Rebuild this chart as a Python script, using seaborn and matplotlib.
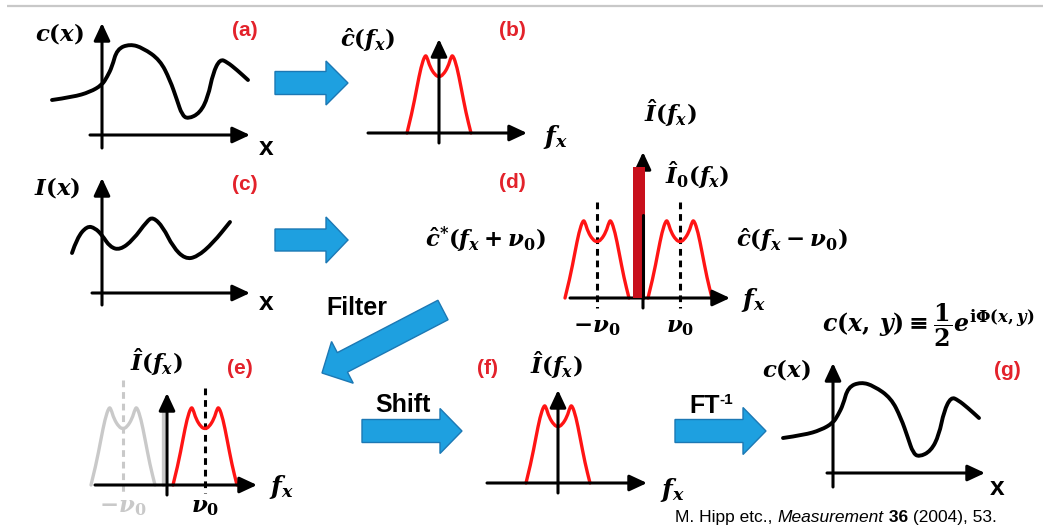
import numpy as np
import matplotlib
matplotlib.use("Agg")
import matplotlib.pyplot as plt
import seaborn as sns
from matplotlib.path import Path
from matplotlib.patches import PathPatch, FancyArrow, Rectangle

# ---------------- data (panel-local: x offset from vertical axis, height above horizontal axis)
signal_x = [-50, -29, -12, 0, 5, 10, 15, 28, 41, 58, 68, 75, 80, 86, 98, 106, 111, 118, 125, 135, 146]
signal_y = [35, 38, 43, 50, 58, 68, 86, 91, 87, 75, 55, 35, 20, 16, 22, 38, 62, 76, 73, 65, 55]

intensity_x = [-30, -25, -15, -7, 0, 8, 18, 31, 45, 51, 61, 71, 83, 95, 111, 128]
intensity_y = [40, 55, 67, 65, 58, 46, 43, 53, 72, 76, 66, 46, 34, 36, 50, 71]

hump_x = [-32, -27, -22, -18, -14, -12, -9, -4, 0, 4, 9, 12, 14, 18, 22, 27, 32]
hump_y = [0, 20, 46, 66, 78, 76, 66, 58, 56, 58, 66, 76, 78, 66, 46, 20, 0]

nu0_d = [-46, 37]          # carrier positions in panel (d)
nu0_e = [-44, 38]          # carrier positions in panel (e)
dc_bar_x = [-10, 2]        # DC term width in (d)
dc_bar_height = 131
dc_gray_x = -4
dc_gray_height = 75

panel_tags = ["(a)", "(b)", "(c)", "(d)", "(e)", "(f)", "(g)"]
step_labels = ["Filter", "Shift"]
citation = ["M. Hipp etc., ", "Measurement", " 36", " (2004), 53."]

# ---------------- style
RED = "#FF1414"
TAG_RED = "#E3222B"
DC_RED = "#C8101C"
GRAY = "#C9C9C9"
BLUE = "#1EA0E0"
BLUE_EDGE = "#1C78B4"

sns.set_theme(style="white")
plt.rcParams.update({
    "font.family": ["Liberation Sans", "DejaVu Sans"],
    "text.color": "black",
    "mathtext.fontset": "custom",
    "mathtext.rm": "DejaVu Serif:bold",
    "mathtext.it": "DejaVu Serif:italic:bold",
    "mathtext.bf": "DejaVu Serif:bold",
    "mathtext.fallback": "stix",
})

fig = plt.figure(figsize=(10.43, 5.31), dpi=100)
ax = fig.add_axes([0, 0, 1, 1])
ax.set_xlim(0, 1043)
ax.set_ylim(531, 0)
ax.axis("off")

MFS = 16.5  # math label size
FXS = 18    # f_x axis label size


def smooth_curve(ox, oy, xs, ys, color, lw=2.6, z=3):
    pts = [(ox + x, oy - y) for x, y in zip(xs, ys)]
    verts = [pts[0]]
    codes = [Path.MOVETO]
    for i in range(1, len(pts) - 1):
        mid = ((pts[i][0] + pts[i + 1][0]) / 2, (pts[i][1] + pts[i + 1][1]) / 2)
        verts += [pts[i], mid]
        codes += [Path.CURVE3, Path.CURVE3]
    verts.append(pts[-1])
    codes.append(Path.LINETO)
    ax.add_patch(PathPatch(Path(verts, codes), fill=False, edgecolor=color, lw=lw,
                           capstyle="round", joinstyle="round", zorder=z))


def axis_arrows(ox, oy, xr, yr, z=4):
    kw = dict(arrowstyle="-|>,head_length=0.75,head_width=0.35", lw=2.2, color="black",
              mutation_scale=14, shrinkA=0, shrinkB=0)
    ax.annotate("", xy=(ox + xr[1], oy), xytext=(ox + xr[0], oy), arrowprops=kw, zorder=z)
    ax.annotate("", xy=(ox, oy - yr[1]), xytext=(ox, oy - yr[0]), arrowprops=kw, zorder=z)


def vline(ox, oy, x, y0, y1, color, dashed=True, lw=2.2, z=2):
    sns.lineplot(x=[ox + x, ox + x], y=[oy - y0, oy - y1], ax=ax, color=color, lw=lw,
                 estimator=None, sort=False, legend=False, zorder=z,
                 linestyle=(0, (2.2, 1.6)) if dashed else "-")


def blue_arrow(x0, y0, x1, y1, w, hw, hl):
    ax.add_patch(FancyArrow(x0, y0, x1 - x0, y1 - y0, width=w, head_width=hw, head_length=hl,
                            length_includes_head=True, fc=BLUE, ec=BLUE_EDGE, lw=1.0, zorder=2))


def label(x, y, s, size=MFS, color="black", **kw):
    ax.text(x, y, s, ha="center", va="center", fontsize=size, color=color, **kw)


def tag(x, y, s):
    ax.text(x, y, s, ha="center", va="center", fontsize=15, color=TAG_RED, fontweight="bold")


def seq_text(xc, y, pieces):
    r = fig.canvas.get_renderer()
    objs = []
    for s, kw in pieces:
        kw = dict(kw)
        dy = kw.pop("dy", 0)
        t = ax.text(0, y + dy, s, va="baseline", ha="left", color="black", **kw)
        objs.append(t)
    widths = [t.get_window_extent(r).width for t in objs]
    x = xc - sum(widths) / 2
    for t, w in zip(objs, widths):
        t.set_x(x)
        x += w


# top rule
ax.plot([7, 1043], [6, 6], color="#C8C8C8", lw=1.6, solid_capstyle="butt")

# ---------------- (a)
oa = (102, 135)
axis_arrows(*oa, (-12, 148), (-13, 112))
smooth_curve(*oa, signal_x, signal_y, "black", lw=2.8)
label(60, 33, r"$c(x)$")
tag(245, 30, panel_tags[0])
ax.text(266, 148, "x", ha="center", va="center", fontsize=19, fontweight="bold")

# ---------------- (b)
ob = (439, 133)
axis_arrows(*ob, (-71, 88), (-10, 94))
smooth_curve(*ob, hump_x, hump_y, RED, lw=2.4)
label(368, 40, r"$\hat{c}(f_x)$")
tag(512, 30, panel_tags[1])
label(555, 137, r"$f_x$", size=FXS)

blue_arrow(275, 83, 348, 83, 23, 44, 22)

# ---------------- (c)
oc = (102, 293)
axis_arrows(*oc, (-10, 148), (-12, 115))
smooth_curve(*oc, intensity_x, intensity_y, "black", lw=2.8)
label(57, 187, r"$I(x)$")
tag(245, 185, panel_tags[2])
ax.text(266, 303, "x", ha="center", va="center", fontsize=19, fontweight="bold")

blue_arrow(275, 240, 348, 240, 22, 46, 22)

# ---------------- (d)
od = (643, 298)
for nu in nu0_d:
    vline(*od, nu, 96, -10, "black")
axis_arrows(*od, (-73, 87), (-10, 146))
for nu in nu0_d:
    smooth_curve(od[0] + nu, od[1], hump_x, hump_y, RED, lw=2.4)
ax.add_patch(Rectangle((od[0] + dc_bar_x[0], od[1] - dc_bar_height), dc_bar_x[1] - dc_bar_x[0],
                       dc_bar_height, fc=DC_RED, ec="none", zorder=5))
vline(*od, 0, 0, 83, "black", dashed=False, lw=2.2, z=6)
label(670, 113, r"$\hat{I}(f_x)$")
label(697, 175, r"$\hat{I}_0(f_x)$")
tag(512, 183, panel_tags[3])
label(486, 240, r"$\hat{c}^{*}(f_x+\nu_0)$")
label(792, 240, r"$\hat{c}(f_x-\nu_0)$")
label(753, 300, r"$f_x$", size=FXS)
label(od[0] + nu0_d[0], 326, r"$-\nu_0$")
label(od[0] + nu0_d[1], 326, r"$\nu_0$")

# filter arrow
blue_arrow(443, 310, 322, 373, 22, 47, 23)
ax.text(357, 308, step_labels[0], ha="center", va="center", fontsize=18, fontweight="bold")

# ---------------- (e)
oe = (167, 485)
vline(*oe, nu0_e[0], 105, -8, GRAY)
vline(*oe, nu0_e[1], 97, -8, "black")
smooth_curve(oe[0] + nu0_e[0], oe[1], hump_x, hump_y, GRAY, lw=2.4, z=2)
vline(*oe, dc_gray_x, 0, dc_gray_height, GRAY, dashed=False, lw=2.4)
axis_arrows(*oe, (-72, 90), (-10, 92))
smooth_curve(oe[0] + nu0_e[1], oe[1], hump_x, hump_y, RED, lw=2.4)
label(156, 362, r"$\hat{I}(f_x)$")
tag(240, 368, panel_tags[4])
label(281, 487, r"$f_x$", size=FXS)
label(oe[0] + nu0_e[0], 506, r"$-\nu_0$", color=GRAY)
label(oe[0] + nu0_e[1], 506, r"$\nu_0$")

# shift arrow
blue_arrow(362, 431, 462, 431, 23, 45, 22)
ax.text(403, 405, step_labels[1], ha="center", va="center", fontsize=18, fontweight="bold")

# ---------------- (f)
of = (558, 483)
axis_arrows(*of, (-71, 89), (-10, 93))
smooth_curve(*of, hump_x, hump_y, RED, lw=2.4)
tag(488, 368, panel_tags[5])
label(556, 365, r"$\hat{I}(f_x)$")
label(672, 490, r"$f_x$", size=FXS)

# FT^-1 arrow
blue_arrow(675, 431, 766, 431, 23, 47, 23)
seq_text(711, 413, [("FT", dict(fontsize=18, fontweight="bold")),
                    ("-1", dict(fontsize=11, fontweight="bold", dy=-9))])

# ---------------- (g)
og = (833, 473)
axis_arrows(*og, (-6, 152), (-14, 110))
smooth_curve(*og, signal_x, signal_y, "black", lw=2.8)
label(787, 370, r"$c(x)$")
tag(1007, 370, panel_tags[6])
ax.text(997, 488, "x", ha="center", va="center", fontsize=19, fontweight="bold")
label(928, 325, r"$c(x,\,y)\equiv\dfrac{1}{2}e^{\mathrm{i}\Phi(x,y)}$", size=17)

seq_text(836, 522, [(citation[0], dict(fontsize=12.5)),
                    (citation[1], dict(fontsize=12.5, style="italic")),
                    (citation[2], dict(fontsize=12.5, fontweight="bold")),
                    (citation[3], dict(fontsize=12.5))])

fig.savefig("out.png", dpi=100)
